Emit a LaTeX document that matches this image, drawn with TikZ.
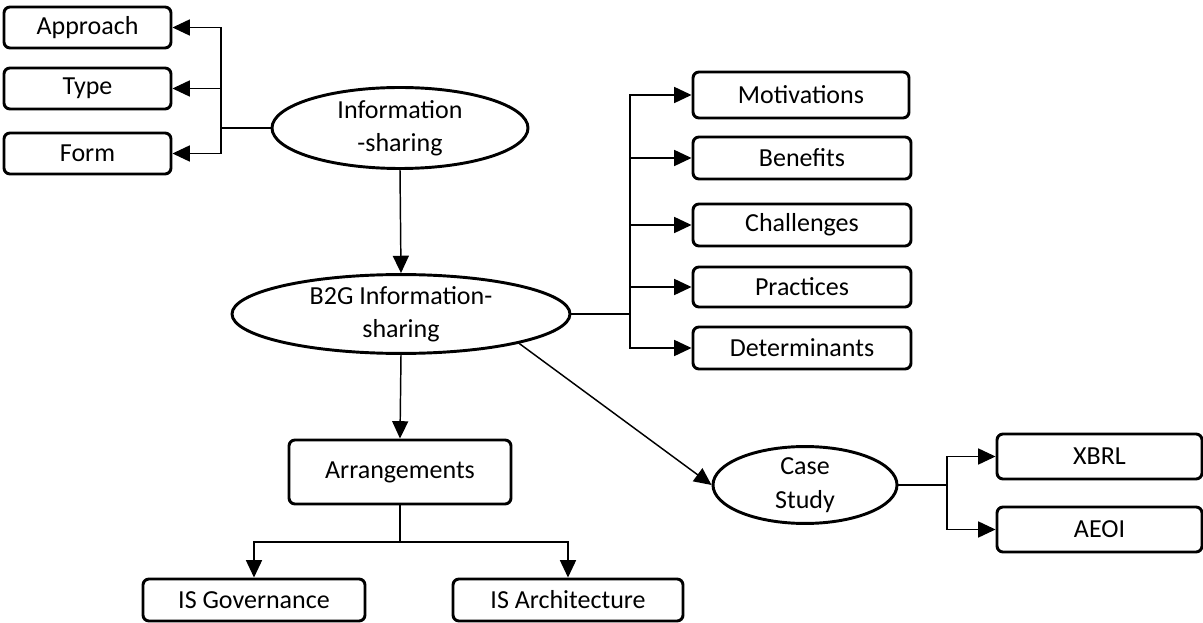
\documentclass[tikz,border=0pt]{standalone}
\usepackage{fontspec}
\setmainfont{Carlito}
\usetikzlibrary{arrows.meta,shapes.geometric}

\begin{document}
\begin{tikzpicture}[x=0.75pt,y=-0.75pt,
  every node/.style={font=\fontsize{19.5}{25}\selectfont, inner sep=0pt, align=center},
  sz/.style 2 args={minimum width=#1*0.75pt, minimum height=#2*0.75pt},
  box/.style={draw, line width=2.2pt, rounded corners=4.5pt},
  oval/.style={draw, ellipse, line width=2.2pt},
  link/.style={line width=1.1pt},
  arr/.style={link, -{Triangle[length=13pt,width=12pt]}}]

\useasboundingbox (0,0) rectangle (1203,623);

% left group
\node[box, sz={167}{41}] (approach) at (87.5,27.5) {Approach};
\node[box, sz={167}{41}] (type) at (87.5,88.5) {Type};
\node[box, sz={167}{41}] (form) at (87.5,153.5) {Form};
\node[oval, sz={256}{81}] (info) at (400,128) {Information\\-sharing};

% central ellipse
\node[oval, sz={338}{77}] (b2g) at (401,314) {B2G Information-\\sharing};

% right column
\node[box, sz={216}{46}] (motiv) at (801,95) {Motivations};
\node[box, sz={218}{42}] (benef) at (802,158) {Benefits};
\node[box, sz={218}{42}] (chall) at (802,225) {Challenges};
\node[box, sz={218}{40}] (pract) at (802,287) {Practices};
\node[box, sz={218}{42}] (determ) at (802,348) {Determinants};

% arrangements
\node[box, sz={222}{64}] (arrg) at (400,472) {Arrangements};
\node[box, sz={222}{42}] (isgov) at (254,600) {IS Governance};
\node[box, sz={230}{42}] (isarch) at (568,600) {IS Architecture};

% case study
\node[oval, sz={184}{66}] (case) at (805,485) {Case\\Study};
\node[box, sz={205}{45}] (xbrl) at (1099.5,456.5) {XBRL};
\node[box, sz={205}{45}] (aeoi) at (1099.5,529.5) {AEOI};

% bus points
\coordinate (busL) at (221,128);
\coordinate (busR) at (630,314);
\coordinate (busB) at (400,542);
\coordinate (busC) at (947,485);

% connectors: information-sharing
\draw[link] (info.west) -- (busL);
\draw[arr] (busL) |- (approach.east);
\draw[arr] (busL) |- (type.east);
\draw[arr] (busL) |- (form.east);
\draw[arr] (info.south) -- (b2g.north);

% connectors: B2G to right column
\draw[link] (b2g.east) -- (busR);
\draw[arr] (busR) |- (motiv.west);
\draw[arr] (busR) |- (benef.west);
\draw[arr] (busR) |- (chall.west);
\draw[arr] (busR) |- (pract.west);
\draw[arr] (busR) |- (determ.west);

% connectors: arrangements
\draw[arr] (b2g.south) -- (arrg.north);
\draw[link] (arrg.south) -- (busB);
\draw[arr] (busB) -| (isgov.north);
\draw[arr] (busB) -| (isarch.north);

% connectors: case study
\draw[arr] (b2g.-14) -- (case.west);
\draw[link] (case.east) -- (busC);
\draw[arr] (busC) |- (xbrl.west);
\draw[arr] (busC) |- (aeoi.west);

\end{tikzpicture}
\end{document}
